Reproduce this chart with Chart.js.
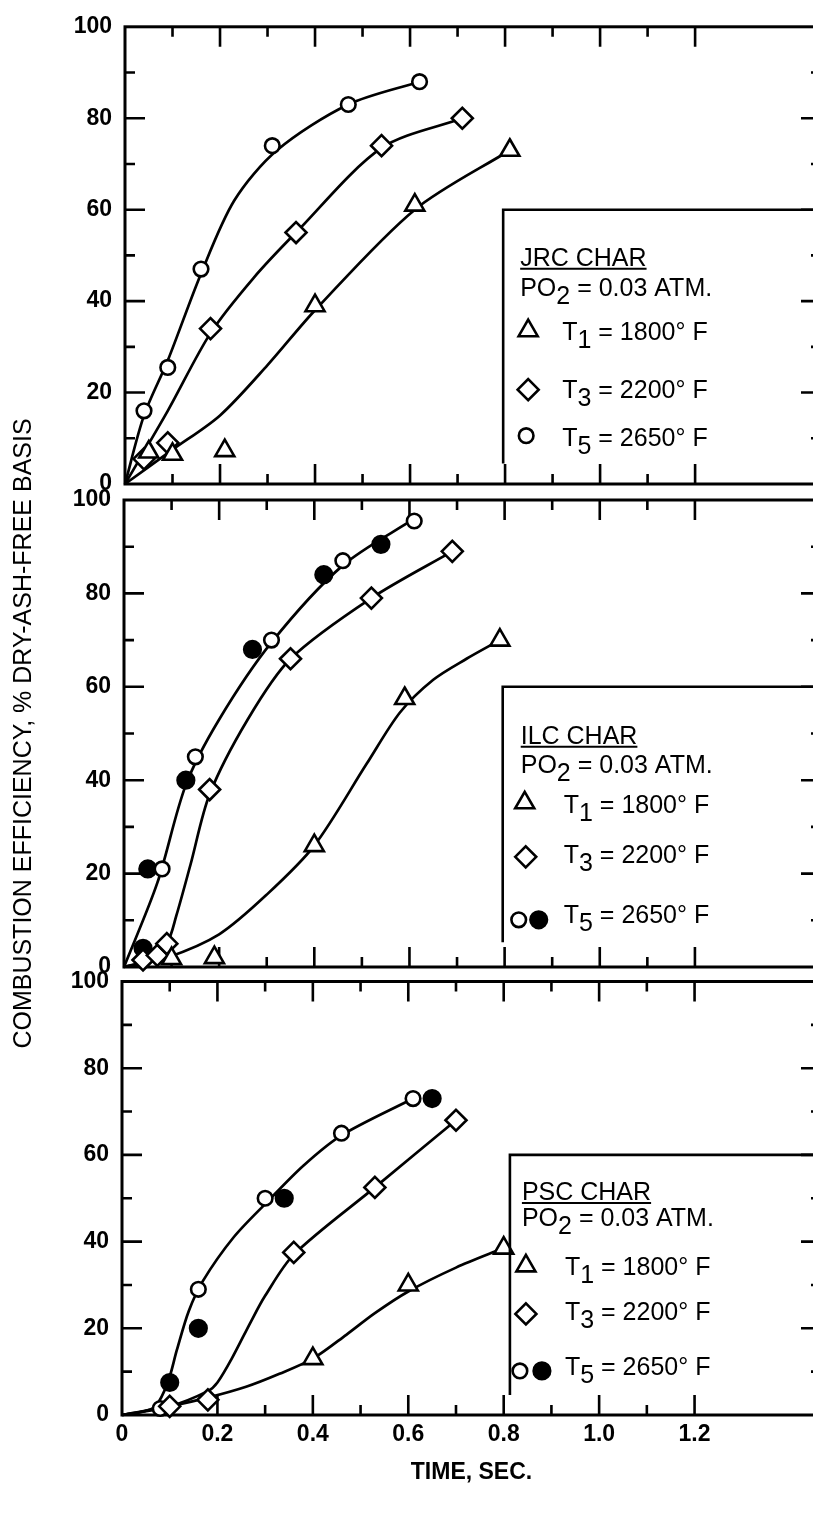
<!DOCTYPE html>
<html>
<head>
<meta charset="utf-8">
<title>Char combustion efficiency</title>
<script src="https://cdn.jsdelivr.net/npm/chart.js@4.4.1/dist/chart.umd.min.js"></script>
<style>
  html, body { margin: 0; padding: 0; background: #fff; }
  body { width: 813px; height: 1518px; overflow: hidden; position: relative; }
  canvas { position: absolute; left: 0; top: 0; }
</style>
</head>
<body>
<canvas id="jrc-chart" width="840" height="1518"></canvas>
<canvas id="ilc-chart" width="840" height="1518"></canvas>
<canvas id="psc-chart" width="840" height="1518"></canvas>
<script>
// axis tick labels
var timeTicks = [0, 0.2, 0.4, 0.6, 0.8, 1.0, 1.2];
var effTicks = [0, 20, 40, 60, 80, 100];

// furnace temperatures (deg F) and their subscripts
var tempSubs = ['1', '3', '5'];
var tempValues = ['1800', '2200', '2650'];

// JRC char: measured points [time s, efficiency %]
var jrcT1 = [[0.05, 7], [0.10, 6.5], [0.21, 7.3], [0.40, 39], [0.61, 61], [0.81, 73]];
var jrcT3 = [[0.04, 5.5], [0.09, 9], [0.18, 34], [0.36, 55], [0.54, 74], [0.71, 80]];
var jrcT5 = [[0.04, 16], [0.09, 25.5], [0.16, 47], [0.31, 74], [0.47, 83], [0.62, 88]];
// JRC char: faired curves
var jrcT1Fit = [[0, 0], [0.10, 7.5], [0.20, 15], [0.30, 26], [0.40, 38], [0.61, 60], [0.81, 73]];
var jrcT3Fit = [[0, 0], [0.09, 16], [0.18, 33], [0.27, 45], [0.36, 55], [0.54, 73.5], [0.71, 80]];
var jrcT5Fit = [[0, 0], [0.04, 15], [0.09, 27], [0.16, 46], [0.23, 62], [0.32, 73], [0.47, 83], [0.62, 88]];

// ILC char
var ilcT1 = [[0.10, 1.8], [0.19, 2], [0.40, 26], [0.59, 57.5], [0.79, 70]];
var ilcT3 = [[0.04, 1.5], [0.07, 2.5], [0.09, 5], [0.18, 38], [0.35, 66], [0.52, 79], [0.69, 89]];
var ilcT5Open = [[0.08, 21], [0.15, 45], [0.31, 70], [0.46, 87], [0.61, 95.5]];
var ilcT5Solid = [[0.04, 4], [0.05, 21], [0.13, 40], [0.27, 68], [0.42, 84], [0.54, 90.5]];
var ilcT1Fit = [[0, 0], [0.09, 2], [0.20, 7], [0.30, 15.5], [0.40, 26], [0.51, 43.5], [0.58, 54.5],
    [0.65, 61.5], [0.72, 66], [0.79, 70]];
var ilcT3Fit = [[0, 0], [0.05, 1.5], [0.09, 5], [0.11, 11], [0.14, 22], [0.18, 37], [0.26, 53], [0.35, 66], [0.52, 79], [0.69, 89]];
var ilcT5Fit = [[0, 0], [0.07, 18], [0.13, 39], [0.20, 53], [0.31, 69.5], [0.46, 86], [0.61, 96]];

// PSC char
var pscT1 = [[0.40, 13], [0.60, 30], [0.80, 38.5]];
var pscT3 = [[0.10, 2], [0.18, 3.5], [0.36, 37.5], [0.53, 52.5], [0.70, 68]];
var pscT5Open = [[0.08, 1.5], [0.16, 29], [0.30, 50], [0.46, 65], [0.61, 73]];
var pscT5Solid = [[0.10, 7.5], [0.16, 20], [0.34, 50], [0.65, 73]];
var pscT1Fit = [[0, 0], [0.10, 2], [0.18, 4], [0.26, 6.5], [0.33, 9.5], [0.40, 13], [0.47, 18.5],
    [0.53, 23.5], [0.60, 28.5], [0.70, 34], [0.80, 38.5]];
var pscT3Fit = [[0, 0], [0.10, 2], [0.18, 5.5], [0.20, 7.5], [0.23, 13], [0.27, 21.5], [0.30, 27.5],
    [0.36, 37], [0.53, 52.5], [0.70, 68]];
var pscT5Fit = [[0, 0], [0.04, 0.7], [0.07, 2], [0.096, 7.5], [0.115, 15], [0.14, 24], [0.17, 31],
    [0.234, 41], [0.303, 49], [0.38, 57.5], [0.46, 64.5], [0.61, 73]];

var FONT = '"Liberation Sans", Arial, Helvetica, sans-serif';
var CANVAS_W = 840, CANVAS_H = 1518, PLOT_RIGHT = 821, X_MAX = 1.465;
var MARK_LINE = 2.6;

Chart.defaults.font.family = FONT;
Chart.defaults.color = '#000';

var markStyles = {
    triangle: { pointStyle: 'triangle', radius: 11 },
    diamond: { pointStyle: 'rectRot', radius: 10.5 },
    open: { pointStyle: 'circle', radius: 7.3 },
    solid: { pointStyle: 'circle', radius: 8.3 }
};

function toPoints(arr) {
    return arr.map(function (p) { return { x: p[0], y: p[1] }; });
}

function fitLine(arr) {
    return {
        data: toPoints(arr),
        borderColor: '#000',
        borderWidth: 2.7,
        pointRadius: 0,
        tension: 0.3,
        fill: false,
        clip: false,
        order: 2
    };
}

function markers(arr, kind) {
    var s = markStyles[kind];
    return {
        data: toPoints(arr),
        showLine: false,
        pointStyle: s.pointStyle,
        pointRadius: s.radius,
        pointBorderWidth: MARK_LINE,
        pointBorderColor: '#000',
        pointBackgroundColor: kind === 'solid' ? '#000' : '#fff',
        clip: false,
        order: 1
    };
}

// frame with inward ticks on all four sides
var frameTicks = {
    id: 'frameTicks',
    beforeDatasetsDraw: function (chart) {
        var ctx = chart.ctx, a = chart.chartArea;
        var xs = chart.scales.x, ys = chart.scales.y;
        ctx.save();
        ctx.strokeStyle = '#000';
        ctx.lineWidth = 3;
        ctx.strokeRect(a.left, a.top, a.right - a.left, a.bottom - a.top);
        ctx.lineWidth = 2.6;
        ctx.beginPath();
        for (var i = 1; i <= 12; i++) {
            var px = xs.getPixelForValue(i / 10);
            var len = i % 2 === 0 ? 20 : 10;
            ctx.moveTo(px, a.top); ctx.lineTo(px, a.top + len);
            ctx.moveTo(px, a.bottom); ctx.lineTo(px, a.bottom - len);
        }
        for (var j = 10; j < 100; j += 10) {
            var py = ys.getPixelForValue(j);
            var len2 = j % 20 === 0 ? 20 : 10;
            ctx.moveTo(a.left, py); ctx.lineTo(a.left + len2, py);
            ctx.moveTo(a.right, py); ctx.lineTo(a.right - len2, py);
        }
        ctx.stroke();
        ctx.restore();
    }
};

function drawParts(ctx, x, y, parts) {
    parts.forEach(function (p) {
        ctx.fillText(p[0], x, y + p[1]);
        x += ctx.measureText(p[0]).width;
    });
}

// boxed key in the lower right of each panel
var charKey = {
    id: 'charKey',
    afterDatasetsDraw: function (chart, args, opts) {
        if (!opts.title) return;
        var ctx = chart.ctx, a = chart.chartArea;
        var left = chart.scales.x.getPixelForValue(opts.boxX);
        var top = chart.scales.y.getPixelForValue(60);
        var bottom = chart.scales.y.getPixelForValue(opts.boxBottom);
        ctx.save();
        ctx.strokeStyle = '#000';
        ctx.fillStyle = '#000';
        ctx.lineWidth = 2.6;
        ctx.beginPath();
        ctx.moveTo(a.right, top);
        ctx.lineTo(left, top);
        ctx.lineTo(left, bottom);
        ctx.stroke();

        ctx.font = '25px ' + FONT;
        ctx.textBaseline = 'alphabetic';
        var tx = left + opts.titleDx;
        var ty = top + opts.titleDy;
        ctx.fillText(opts.title, tx, ty);
        var w = ctx.measureText(opts.title).width;
        ctx.lineWidth = 2;
        ctx.beginPath();
        ctx.moveTo(tx, ty + 3);
        ctx.lineTo(tx + w, ty + 3);
        ctx.stroke();
        drawParts(ctx, tx, top + opts.po2Dy, [['PO', 0], ['2', 8], [' = 0.03 ATM.', 0]]);

        opts.rows.forEach(function (row, k) {
            row.marks.forEach(function (m) {
                var s = markStyles[m.kind];
                ctx.fillStyle = m.kind === 'solid' ? '#000' : '#fff';
                ctx.strokeStyle = '#000';
                ctx.lineWidth = MARK_LINE;
                Chart.helpers.drawPoint(ctx, {
                    pointStyle: s.pointStyle, radius: s.radius, rotation: 0, borderWidth: MARK_LINE
                }, left + m.dx, top + row.markDy);
            });
            ctx.fillStyle = '#000';
            drawParts(ctx, left + opts.textDx, top + row.textDy,
                [['T', 0], [tempSubs[k], 8], [' = ' + tempValues[k] + '\u00b0 F', 0]]);
        });
        ctx.restore();
    }
};

// shared vertical caption for the efficiency axis
var sideCaption = {
    id: 'sideCaption',
    afterDraw: function (chart, args, opts) {
        if (!opts.text) return;
        var ctx = chart.ctx, a = chart.chartArea;
        ctx.save();
        ctx.translate(opts.x, (a.top + a.bottom) / 2);
        ctx.rotate(-Math.PI / 2);
        ctx.font = '25px ' + FONT;
        ctx.fillStyle = '#000';
        ctx.textAlign = 'center';
        ctx.textBaseline = 'middle';
        ctx.fillText(opts.text, 0, 0);
        ctx.restore();
    }
};

function makePanel(canvasId, panel) {
    var showTime = !!panel.timeLabels;
    return new Chart(document.getElementById(canvasId), {
        type: 'line',
        data: { datasets: panel.datasets },
        options: {
            responsive: false,
            animation: false,
            events: [],
            layout: {
                padding: {
                    left: 0,
                    right: CANVAS_W - PLOT_RIGHT,
                    top: panel.top,
                    bottom: showTime ? 0 : CANVAS_H - panel.bottom
                }
            },
            scales: {
                x: {
                    type: 'linear',
                    min: 0,
                    max: X_MAX,
                    grid: { display: false, drawTicks: false },
                    border: { display: false },
                    ticks: {
                        display: showTime,
                        padding: 6,
                        maxRotation: 0,
                        autoSkip: false,
                        font: { size: 23, weight: 'bold' },
                        callback: function (v) { return v === 0 ? '0' : v.toFixed(1); }
                    },
                    afterBuildTicks: function (s) {
                        s.ticks = timeTicks.map(function (v) { return { value: v }; });
                    },
                    afterFit: function (s) { s.height = showTime ? CANVAS_H - panel.bottom : 0; },
                    title: {
                        display: showTime,
                        text: 'TIME, SEC.',
                        font: { size: 23, weight: 'bold' },
                        padding: { top: 0, bottom: 32 }
                    }
                },
                y: {
                    min: 0,
                    max: 100,
                    grid: { display: false, drawTicks: false },
                    border: { display: false },
                    ticks: { padding: 13, font: { size: 23, weight: 'bold' } },
                    afterBuildTicks: function (s) {
                        s.ticks = effTicks.map(function (v) { return { value: v }; });
                    },
                    afterFit: function (s) { s.width = panel.left; }
                }
            },
            plugins: {
                legend: { display: false },
                tooltip: { enabled: false },
                charKey: panel.key,
                sideCaption: panel.caption || {}
            }
        },
        plugins: [frameTicks, charKey, sideCaption]
    });
}

makePanel('jrc-chart', {
    left: 125, top: 17.5, bottom: 484,
    datasets: [
        fitLine(jrcT1Fit), fitLine(jrcT3Fit), fitLine(jrcT5Fit),
        markers(jrcT1, 'triangle'), markers(jrcT3, 'diamond'), markers(jrcT5, 'open')
    ],
    key: {
        title: 'JRC CHAR', boxX: 0.796, boxBottom: 4.5,
        titleDx: 17, titleDy: 56, po2Dy: 86, textDx: 59,
        rows: [
            { markDy: 121, textDy: 130, marks: [{ kind: 'triangle', dx: 25 }] },
            { markDy: 180, textDy: 188, marks: [{ kind: 'diamond', dx: 25 }] },
            { markDy: 226, textDy: 236, marks: [{ kind: 'open', dx: 23 }] }
        ]
    }
});

makePanel('ilc-chart', {
    left: 124, top: 500, bottom: 967,
    datasets: [
        fitLine(ilcT1Fit), fitLine(ilcT3Fit), fitLine(ilcT5Fit),
        markers(ilcT1, 'triangle'), markers(ilcT3, 'diamond'),
        markers(ilcT5Open, 'open'), markers(ilcT5Solid, 'solid')
    ],
    key: {
        title: 'ILC CHAR', boxX: 0.796, boxBottom: 5.3,
        titleDx: 18, titleDy: 57, po2Dy: 86, textDx: 61,
        rows: [
            { markDy: 116, textDy: 126, marks: [{ kind: 'triangle', dx: 22 }] },
            { markDy: 170, textDy: 176, marks: [{ kind: 'diamond', dx: 23 }] },
            { markDy: 233, textDy: 236, marks: [{ kind: 'open', dx: 16 }, { kind: 'solid', dx: 36 }] }
        ]
    },
    caption: { text: 'COMBUSTION EFFICIENCY, % DRY-ASH-FREE BASIS', x: 24 }
});

makePanel('psc-chart', {
    left: 122, top: 981.5, bottom: 1415, timeLabels: true,
    datasets: [
        fitLine(pscT1Fit), fitLine(pscT3Fit), fitLine(pscT5Fit),
        markers(pscT1, 'triangle'), markers(pscT3, 'diamond'),
        markers(pscT5Open, 'open'), markers(pscT5Solid, 'solid')
    ],
    key: {
        title: 'PSC CHAR', boxX: 0.813, boxBottom: 4.6,
        titleDx: 12, titleDy: 45, po2Dy: 71, textDx: 55,
        rows: [
            { markDy: 111, textDy: 120, marks: [{ kind: 'triangle', dx: 16 }] },
            { markDy: 159, textDy: 165, marks: [{ kind: 'diamond', dx: 16 }] },
            { markDy: 216, textDy: 220, marks: [{ kind: 'open', dx: 10 }, { kind: 'solid', dx: 32 }] }
        ]
    }
});
</script>
</body>
</html>
